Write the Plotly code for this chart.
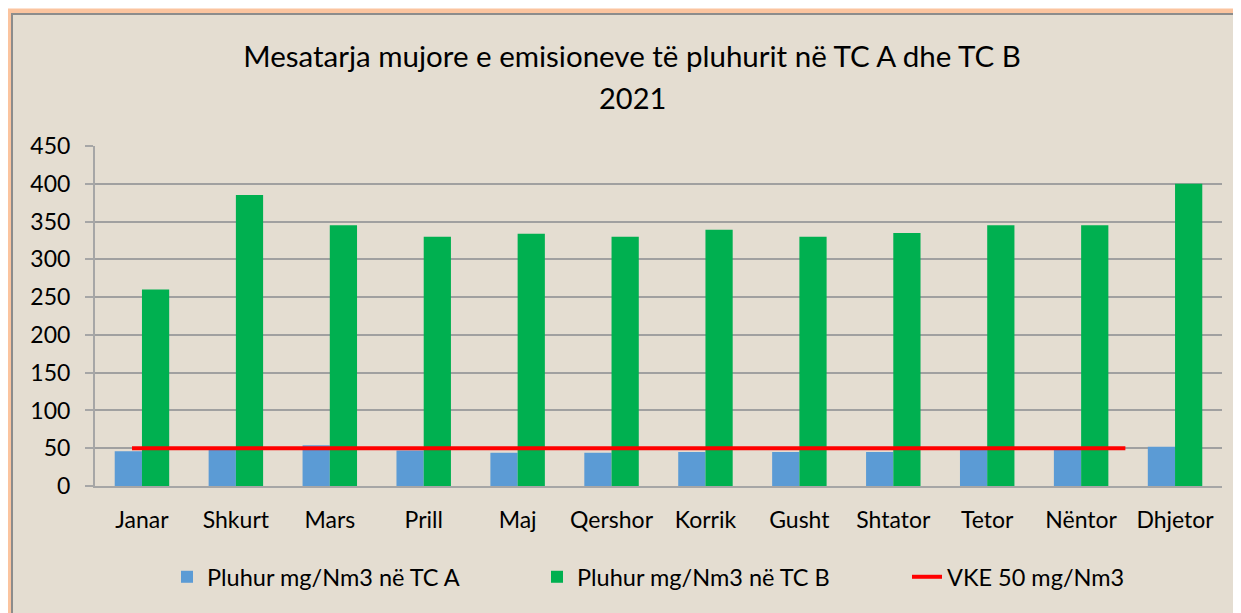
import plotly.graph_objects as go

months = ["Janar", "Shkurt", "Mars", "Prill", "Maj", "Qershor", "Korrik",
          "Gusht", "Shtator", "Tetor", "Nëntor", "Dhjetor"]
tc_a = [46, 50, 54, 47, 44, 44, 45, 45, 45, 49, 49, 52]
tc_b = [260, 385, 345, 330, 334, 330, 339, 330, 335, 345, 345, 400]
vke = [50] * 12
y_ticks = [0, 50, 100, 150, 200, 250, 300, 350, 400, 450]

title_line1 = "Mesatarja mujore e emisioneve të pluhurit në TC A dhe TC B"
title_line2 = "2021"
name_a = "Pluhur mg/Nm3 në TC A"
name_b = "Pluhur mg/Nm3 në TC B"
name_vke = "VKE 50 mg/Nm3"

FONT = "Lato"
BG = "#e4ddd1"

fig = go.Figure()
fig.add_trace(go.Bar(x=months, y=tc_a, name=name_a, marker_color="#5b9bd5",
                     marker_line_width=0))
fig.add_trace(go.Bar(x=months, y=tc_b, name=name_b, marker_color="#00b050",
                     marker_line_width=0))
fig.add_trace(go.Scatter(x=list(range(len(months))), y=vke, name=name_vke,
                         mode="lines", line=dict(color="#ff0000", width=4),
                         xaxis="x2"))

OFF = 8  # page body offset
W, H = 1241, 613
L, T = 95 - OFF, 146 - OFF
pw, ph = 1127, 340
R, B = W - L - pw, H - T - ph


def px(x):
    return (x - OFF - L) / pw


def py(y):
    return (H - B - (y - OFF)) / ph


fig.update_layout(
    width=W, height=H,
    margin=dict(l=L, r=R, t=T, b=B, autoexpand=False),
    paper_bgcolor="white",
    plot_bgcolor="white",
    font=dict(family=FONT, size=23, color="black"),
    barmode="group",
    bargap=0.42,
    bargroupgap=0,
    showlegend=True,
    title=dict(text=title_line1, x=(632 - OFF) / W, xanchor="center",
               y=1 - (57 - OFF) / H, yanchor="middle",
               font=dict(size=29.5, family=FONT)),
    annotations=[dict(text=title_line2, xref="paper", yref="paper",
                      x=px(632), y=py(97), xanchor="center", yanchor="middle",
                      showarrow=False, font=dict(size=29, family=FONT))],
    legend=dict(orientation="h", x=px(167), xanchor="left", y=py(577),
                yanchor="middle", bgcolor="rgba(0,0,0,0)",
                font=dict(size=23.5, family=FONT), itemwidth=30,
                entrywidth=325, traceorder="normal"),
    xaxis=dict(type="category", showgrid=False, showline=True,
               linecolor="#a6a6a6", linewidth=2, ticks="",
               ticklabelstandoff=12, tickfont=dict(size=23)),
    xaxis2=dict(overlaying="x", range=[-0.41, 12.07], visible=False),
    yaxis=dict(range=[0, 450], tickvals=y_ticks, showgrid=True,
               gridcolor="#a0a0a0", gridwidth=1.5, showline=True,
               linecolor="#a6a6a6", linewidth=2, ticks="outside",
               ticklen=8, tickcolor="#a6a6a6", tickwidth=1.5,
               ticklabelstandoff=10,
               zeroline=False, tickfont=dict(size=23)),
    shapes=[
        dict(type="rect", xref="paper", yref="paper", layer="below",
             x0=px(9), x1=px(1260), y0=py(640), y1=py(11),
             line=dict(color="#fbc49f", width=5), fillcolor=BG),
        dict(type="rect", xref="paper", yref="paper", layer="below",
             x0=px(12), x1=px(1260), y0=py(640), y1=py(14),
             line=dict(color="#8c8c8c", width=2), fillcolor=BG),
    ],
)

fig.write_html("out.html")
